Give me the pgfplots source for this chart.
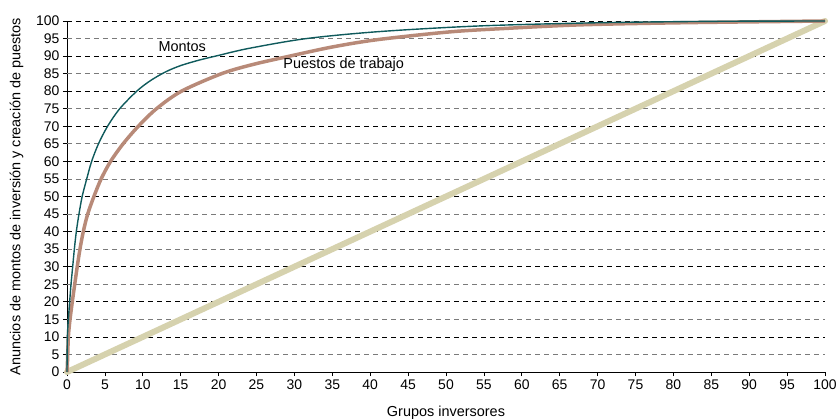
\documentclass[border=0pt]{standalone}
\usepackage{pgfplots}
\pgfplotsset{compat=1.18}
\usepackage{fontspec}
\setmainfont{Liberation Sans}
\definecolor{montos}{HTML}{0F5A5C}
\definecolor{puestos}{HTML}{B88A78}
\definecolor{diag}{HTML}{D6D2AE}
\definecolor{gridgray}{HTML}{7A7A7A}
\begin{document}
\begin{tikzpicture}
\path[use as bounding box] (-67bp,-48bp) rectangle (771bp,372bp);
\begin{axis}[
  scale only axis,
  width=758bp, height=351bp,
  xmin=0, xmax=100, ymin=0, ymax=100,
  axis lines=left,
  axis line style={-, line width=1pt},
  xtick={0,5,...,100},
  ytick={0,10,...,100},
  extra y ticks={5,15,...,95},
  extra y tick style={grid style={gridgray, dash pattern=on 5bp off 4bp, line width=0.9pt}},
  ymajorgrids,
  grid style={black, dash pattern=on 5bp off 4bp, line width=0.8pt},
  tick align=outside,
  major tick length=4bp,
  tick style={black, line width=0.8pt},
  /pgf/number format/assume math mode=true,
  ticklabel style={font=\fontsize{14}{16}\selectfont},
  label style={font=\fontsize{14.5}{17}\selectfont},
  xlabel={Grupos inversores},
  ylabel={Anuncios de montos de inversión y creación de puestos},
  xlabel style={yshift=-10bp},
  ylabel style={yshift=-2bp},
  clip=false,
]
\addplot[diag, line width=6bp, line cap=round] coordinates {(0,0) (100,100)};
\addplot[puestos, line width=3.5bp, smooth, tension=0.5] coordinates {
(0,0) (0.05,2) (0.18,10) (0.4,15) (0.7,20) (1.02,25) (1.35,30) (1.71,35)
(2.15,40) (2.73,45) (3.55,50) (4.5,55) (5.75,60) (7.4,65) (9.4,70) (11.8,75)
(15.1,80) (20.4,85) (24.5,87.6) (29.4,90) (35,92.6)
(41,94.7) (50.5,96.9) (58,97.9) (67.7,98.9) (80.9,99.5) (100,100)};
\addplot[montos, line width=1.4bp, smooth, tension=0.5] coordinates {
(0,0) (0.05,10) (0.18,15) (0.35,20) (0.53,25) (0.75,30) (0.97,35) (1.23,40)
(1.58,45) (2.0,50) (2.6,55) (3.25,60) (4.15,65) (5.35,70) (6.95,75) (9.2,80)
(11,83) (13,85.5) (15,87.3) (17.5,88.9) (20,90.2) (24,92.2) (31.6,95)
(41.3,97) (54.5,98.6) (70,99.5) (85,99.9) (100,100)};
\node[font=\fontsize{14.5}{17}\selectfont] at (axis cs:15.2,92.6) {Montos};
\node[font=\fontsize{14.5}{17}\selectfont] at (axis cs:36.5,87.5) {Puestos de trabajo};
\end{axis}
\end{tikzpicture}
\end{document}
